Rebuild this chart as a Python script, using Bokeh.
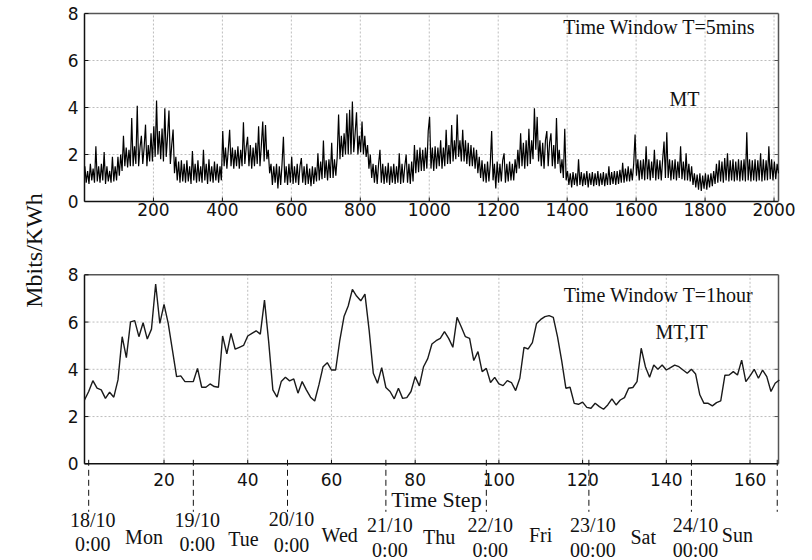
from math import pi
from bokeh.plotting import figure
from bokeh.layouts import row, column
from bokeh.models import Label, Range1d
from bokeh.core.properties import value
from bokeh.embed import file_html
from bokeh.resources import INLINE

# ---------------- data ----------------
# 5-minute window (MT): readings taken every 4 time steps off the picture
mt_5min_step = list(range(1, 2014, 4))
mt_5min = [
    1.5, 0.8, 1.3, 0.75, 1.6, 0.9, 1.4, 0.8, 2.35, 0.85, 1.5, 0.8, 1.6, 0.9, 2.1, 0.75, 1.5, 0.85, 1.3, 0.8, 1.9, 0.85, 1.5, 0.9,
    1.9, 1.1, 2.0, 1.3, 2.8, 1.5, 2.3, 1.45, 2.2, 1.5, 3.55, 1.5, 2.35, 1.6, 4.07, 1.5, 2.3, 2.8, 1.6, 2.3, 3.27, 1.5, 2.4, 1.7,
    2.9, 1.7, 3.2, 1.9, 4.3, 2.0, 3.0, 1.8, 3.1, 1.7, 3.97, 1.9, 2.8, 3.87, 1.6, 2.4, 3.06, 1.2, 1.9, 0.9, 1.7, 0.8, 1.75, 0.85,
    1.6, 0.8, 1.75, 0.85, 1.5, 0.75, 2.15, 0.9, 1.6, 0.8, 1.75, 0.85, 1.5, 0.8, 2.2, 0.9, 1.6, 0.75, 1.8, 0.85, 1.5, 0.8, 1.7, 0.9,
    1.6, 0.8, 1.5, 0.9, 3.0, 1.5, 2.3, 1.4, 2.2, 3.05, 1.5, 2.3, 1.4, 2.2, 1.5, 2.35, 1.4, 2.2, 1.5, 3.37, 1.6, 2.3, 2.75, 1.5,
    2.4, 1.4, 2.3, 1.5, 2.5, 1.6, 3.2, 1.5, 2.4, 3.4, 1.7, 3.25, 1.8, 2.2, 1.2, 1.6, 0.7, 1.5, 0.8, 1.6, 0.55, 1.5, 0.7, 1.6,
    2.75, 0.8, 1.5, 0.7, 1.6, 0.8, 1.9, 0.75, 1.5, 0.8, 1.6, 0.7, 1.5, 1.85, 0.8, 1.5, 0.7, 1.6, 0.75, 1.4, 0.65, 1.5, 0.75, 1.45,
    0.85, 2.05, 0.9, 1.7, 0.95, 2.6, 1.0, 1.75, 0.9, 1.8, 1.0, 2.5, 1.0, 1.8, 1.1, 1.9, 3.7, 1.8, 2.8, 1.9, 2.9, 2.0, 3.75, 2.0,
    3.9, 2.0, 4.25, 2.1, 2.9, 3.8, 2.0, 2.8, 2.1, 3.4, 2.0, 2.8, 1.9, 2.4, 1.4, 2.0, 1.0, 1.6, 0.8, 1.55, 0.75, 1.6, 2.2, 0.8,
    1.6, 0.75, 1.5, 0.8, 1.65, 0.7, 1.5, 0.8, 1.6, 0.75, 1.5, 0.8, 2.05, 0.75, 1.6, 0.8, 1.5, 2.0, 0.8, 1.6, 0.75, 1.7, 0.85, 2.4,
    1.2, 2.2, 1.25, 2.3, 1.3, 2.2, 1.3, 2.3, 1.4, 3.0, 3.6, 1.4, 2.3, 1.3, 2.35, 1.4, 2.3, 1.5, 2.6, 1.4, 2.3, 1.5, 3.05, 1.6,
    2.4, 1.6, 3.25, 1.7, 2.6, 1.8, 3.7, 1.9, 2.6, 1.7, 3.05, 1.7, 2.6, 1.6, 2.5, 1.5, 2.4, 1.5, 2.3, 1.4, 2.2, 1.2, 1.9, 1.0,
    1.75, 0.85, 1.6, 0.8, 1.7, 0.85, 1.6, 3.0, 0.9, 1.6, 0.55, 1.7, 0.8, 1.6, 0.85, 1.75, 2.05, 0.8, 1.6, 0.85, 1.7, 0.9, 1.6, 0.9,
    1.8, 1.2, 2.2, 1.4, 2.9, 1.5, 2.5, 1.4, 2.6, 1.5, 3.1, 1.6, 2.6, 1.8, 3.97, 2.2, 3.6, 1.7, 2.6, 1.5, 2.5, 1.4, 2.6, 3.0,
    1.5, 2.5, 2.9, 1.5, 2.4, 1.4, 3.55, 1.6, 2.2, 1.2, 1.8, 1.0, 3.1, 0.9, 1.3, 0.7, 1.2, 0.6, 1.25, 0.7, 1.2, 0.65, 1.8, 0.7,
    1.25, 0.65, 1.2, 0.7, 1.3, 0.6, 1.2, 0.7, 1.25, 0.65, 1.2, 0.7, 1.3, 0.65, 1.2, 0.7, 1.25, 0.65, 1.2, 0.7, 1.5, 0.7, 1.25, 0.75,
    1.3, 0.7, 1.3, 0.75, 1.35, 0.8, 1.65, 0.8, 1.4, 0.85, 1.5, 0.85, 1.4, 0.9, 1.6, 2.85, 1.1, 1.8, 0.9, 1.75, 0.95, 1.8, 0.9, 2.35,
    0.95, 1.8, 0.9, 1.7, 1.0, 2.2, 0.9, 1.8, 0.95, 1.75, 0.9, 1.8, 2.55, 1.0, 2.95, 1.0, 1.8, 0.9, 1.75, 0.95, 1.8, 0.9, 1.7, 1.0,
    2.35, 0.95, 1.7, 0.9, 2.05, 0.9, 1.6, 0.85, 1.5, 0.7, 1.2, 0.6, 1.15, 0.5, 1.2, 0.45, 1.1, 0.55, 1.2, 0.5, 1.15, 0.6, 1.2, 0.65,
    1.3, 0.75, 1.6, 0.8, 1.75, 0.85, 1.7, 0.8, 1.85, 0.9, 2.05, 0.85, 1.75, 0.9, 1.8, 0.85, 1.7, 0.9, 1.8, 0.85, 1.75, 0.9, 1.8, 0.85,
    2.95, 0.9, 1.8, 0.85, 1.75, 0.9, 1.8, 0.85, 1.75, 0.9, 2.05, 0.85, 1.8, 0.9, 1.75, 0.9, 2.35, 0.95, 1.8, 0.9, 1.7, 0.95, 1.6, 1.2,
]

# 1-hour window (MT, IT)
hour_step = list(range(1, 168))
hour_vals = [
    2.70, 3.06, 3.52, 3.20, 3.13, 2.77, 3.03, 2.82, 3.55, 5.38,
    4.49, 6.01, 6.06, 5.38, 5.97, 5.28, 5.70, 7.61, 5.94, 6.75,
    5.94, 4.82, 3.69, 3.72, 3.48, 3.48, 3.48, 4.04, 3.24, 3.24,
    3.38, 3.27, 3.24, 5.41, 4.65, 5.52, 4.85, 4.93, 5.01, 5.41,
    5.52, 5.63, 5.49, 6.93, 5.17, 3.13, 2.82, 3.48, 3.66, 3.51,
    3.59, 2.99, 3.48, 3.13, 2.82, 2.66, 3.34, 4.11, 4.28, 3.97,
    3.97, 5.24, 6.23, 6.68, 7.38, 7.10, 6.90, 7.18, 5.66, 3.83,
    3.41, 4.07, 3.23, 3.06, 2.75, 3.20, 2.77, 2.80, 3.06, 3.69,
    3.30, 4.11, 4.45, 5.07, 5.21, 5.31, 5.59, 5.31, 4.93, 6.20,
    5.80, 5.38, 5.31, 4.37, 4.75, 3.90, 4.04, 3.44, 3.66, 3.38,
    3.31, 3.52, 3.44, 3.10, 3.62, 4.93, 4.86, 5.13, 5.94, 6.11,
    6.23, 6.27, 6.20, 5.38, 4.37, 3.20, 3.24, 2.56, 2.52, 2.61,
    2.39, 2.35, 2.56, 2.42, 2.31, 2.49, 2.75, 2.49, 2.70, 2.80,
    3.20, 3.23, 3.48, 4.89, 4.11, 3.66, 4.18, 4.00, 4.18, 3.97,
    4.07, 4.18, 4.11, 3.97, 3.83, 4.00, 3.80, 2.92, 2.56, 2.56,
    2.45, 2.59, 2.66, 3.75, 3.76, 3.90, 3.76, 4.39, 3.48, 3.72,
    4.00, 3.62, 3.97, 3.69, 3.06, 3.41, 3.55,
]

top_xticks = [200, 400, 600, 800, 1000, 1200, 1400, 1600, 1800, 2000]
bot_xticks = [20, 40, 60, 80, 100, 120, 140, 160]
yticks = [0, 2, 4, 6, 8]
ygrid_vals = [2, 4, 6]

day_marks = [2, 27, 49.5, 73, 97, 121.5, 146, 166.5]
date_lines = ["18/10", "19/10", "20/10", "21/10", "22/10", "23/10", "24/10"]
time_lines = ["0:00", "0:00", "0:00", "0:00", "0:00", "00:00", "00:00"]
day_names = ["Mon", "Tue", "Wed", "Thu", "Fri", "Sat", "Sun"]

# layout-only helpers: pixel drops of label baselines below the x axis
date_drop = [65, 65, 64, 70, 70, 70, 70]
time_drop = [89, 89, 90, 95, 95, 95, 95]
day_drop = [82, 84, 80, 82, 80, 82, 80]
RAISE = 8.5   # px correction for the rendered baseline of the serif texts

SERIF = "Liberation Serif"
SANS = "DejaVu Sans"
TICK_SIZE = "17px"
INK = "#111111"
FRAME = "#555555"
GRID = "#bdbdbd"
AREA_W = 694           # px width of the boxed plot area
PAD_L, PAD_R = 26, 26  # px of drawing room left / right of the box


def build_panel(height, x0, x1, top_px, bottom_px, xticks, label_gap):
    """A panel whose box [x0,x1]x[0,8] sits at canvas rows top_px..bottom_px;
    the frame covers the whole canvas so texts below/left of the box show."""
    sx = AREA_W / (x1 - x0)
    py = 8 / (bottom_px - top_px)
    p = figure(width=762, height=height, output_backend="svg",
               toolbar_location=None,
               x_range=Range1d(x0 - PAD_L / sx, x1 + PAD_R / sx),
               y_range=Range1d(-(height - bottom_px) * py, 8 + top_px * py),
               x_axis_location=None, y_axis_location=None,
               min_border_left=8, min_border_right=8, min_border_top=0,
               min_border_bottom=0)
    p.outline_line_color = None
    p.grid.visible = False
    n = len(xticks)
    # dotted grid
    p.segment(x0=xticks, y0=[0] * n, x1=xticks, y1=[8] * n,
              line_color=GRID, line_dash="2 2", line_width=1)
    p.segment(x0=[x0] * len(ygrid_vals), y0=ygrid_vals,
              x1=[x1] * len(ygrid_vals), y1=ygrid_vals,
              line_color=GRID, line_dash="2 2", line_width=1)
    # box: left/bottom dark, top/right grey
    p.segment(x0=[x0, x0], y0=[0, 0], x1=[x1, x0], y1=[0, 8],
              line_color=INK, line_width=1.5)
    p.segment(x0=[x0, x1], y0=[8, 0], x1=[x1, x1], y1=[8, 8],
              line_color=FRAME, line_width=1.5)
    # inward ticks
    p.segment(x0=[x0] * len(yticks), y0=yticks, x1=[x0 + 4 / sx] * len(yticks),
              y1=yticks, line_color=INK, line_width=1)
    p.segment(x0=[x1] * len(ygrid_vals), y0=ygrid_vals,
              x1=[x1 - 4 / sx] * len(ygrid_vals), y1=ygrid_vals,
              line_color=FRAME, line_width=1)
    p.segment(x0=xticks, y0=[0] * n, x1=xticks, y1=[4 * py] * n,
              line_color=INK, line_width=1)
    # tick labels
    p.text(x=[x0] * len(yticks), y=yticks, text=[str(v) for v in yticks],
           x_offset=-6, text_font=value(SANS), text_font_size=value(TICK_SIZE),
           text_color=INK, text_align="right", text_baseline="middle")
    p.text(x=xticks, y=[-label_gap * py] * n, text=[str(t) for t in xticks],
           text_font=value(SANS), text_font_size=value(TICK_SIZE), text_color=INK,
           text_align="center", text_baseline="top")
    return p, sx, py


def note(p, x, y, txt):
    p.add_layout(Label(x=x, y=y, text=txt, text_font=SERIF, text_font_size="20px",
                       text_color=INK, text_align="left",
                       text_baseline="alphabetic"))


# ---------------- top panel ----------------
p1, sx1, py1 = build_panel(225, 0, 2013, 13, 201, top_xticks, 1)
p1.line(mt_5min_step, mt_5min, line_color="black", line_width=1.2)
note(p1, 1389, 7.06 + RAISE * py1, "Time Window T=5mins")
note(p1, 1697, 4.01 + RAISE * py1, "MT")

# ---------------- bottom panel ----------------
X0, X1 = 1, 166.8
p2, sx2, py2 = build_panel(335, X0, X1, 49.3, 238.3, bot_xticks, 9)
p2.line(hour_step, hour_vals, line_color="#1a1a1a", line_width=1.4)
note(p2, 115.5, 6.77 + RAISE * py2, "Time Window T=1hour")
note(p2, 137.4, 5.22 + RAISE * py2, "MT,IT")

p2.text(x=[(X0 + X1) / 2], y=[-(43.7 - RAISE) * py2], text=["Time Step"],
        x_offset=5, text_font=value(SERIF), text_font_size=value("22px"),
        text_color=INK, text_align="center", text_baseline="alphabetic")

# dashed day boundary marks under the axis
n = len(day_marks)
p2.segment(x0=day_marks, y0=[4 * py2] * n, x1=day_marks, y1=[-48 * py2] * n,
           line_color=INK, line_width=1, line_dash="6 4")

starts = day_marks[:-1]
mids = [(a + b) / 2 for a, b in zip(day_marks[:-1], day_marks[1:])]
lab = dict(text_font=value(SERIF), text_font_size=value("20px"), text_color=INK,
           text_align="center", text_baseline="alphabetic")
p2.text(x=starts, y=[-(d - RAISE) * py2 for d in date_drop], text=date_lines,
        x_offset=4, **lab)
p2.text(x=starts, y=[-(d - RAISE) * py2 for d in time_drop], text=time_lines,
        x_offset=4, **lab)
p2.text(x=mids, y=[-(d - RAISE) * py2 for d in day_drop], text=day_names,
        x_offset=3, **lab)

# ---------------- shared y label ----------------
pl = figure(width=50, height=560, output_backend="svg", toolbar_location=None,
            x_range=Range1d(0, 1), y_range=Range1d(0, 1),
            min_border=0, outline_line_color=None)
pl.axis.visible = False
pl.grid.visible = False
pl.add_layout(Label(x=33, y=310, x_units="screen", y_units="screen",
                    text="Mbits/KWh", angle=pi / 2, text_font=SERIF,
                    text_font_size="24px", text_color=INK, text_align="center",
                    text_baseline="middle"))

layout = row(pl, column(p1, p2))
open("out.html", "w").write(file_html(layout, INLINE))
